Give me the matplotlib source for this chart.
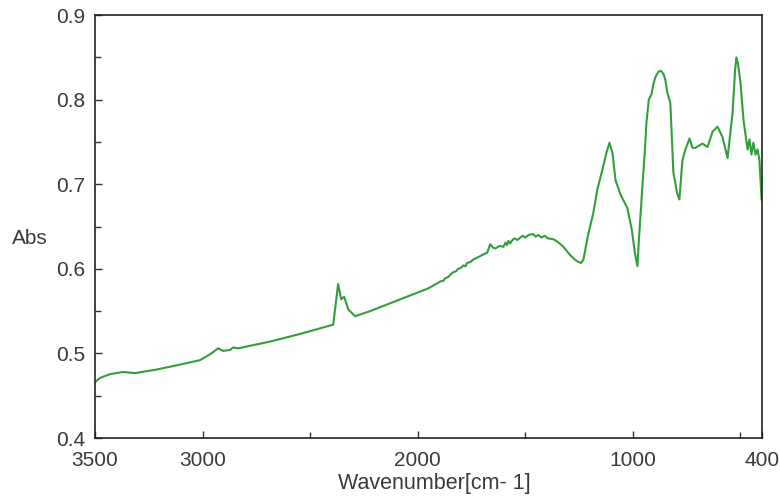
import matplotlib
matplotlib.use("Agg")
import matplotlib.pyplot as plt

plt.rcParams['font.family'] = ['Liberation Sans', 'DejaVu Sans']

wavenumber = [3500, 3477, 3430, 3370, 3314, 3212, 3119, 3012, 2965, 2928, 2905, 2872, 2858, 2835,
              2686, 2547, 2407, 2393, 2370, 2356, 2342, 2323, 2291, 2221, 2081, 1950, 1895, 1880,
              1872, 1860, 1848, 1835, 1822, 1812, 1800, 1788, 1778, 1770, 1755, 1742, 1725, 1710,
              1695, 1677, 1663, 1650, 1640, 1620, 1602, 1592, 1585, 1578, 1570, 1560, 1550, 1537,
              1523, 1512, 1500, 1485, 1463, 1452, 1440, 1425, 1410, 1395, 1370, 1350, 1323, 1291,
              1270, 1253, 1240, 1230, 1210, 1184, 1165, 1142, 1123, 1109, 1095, 1081, 1058, 1026,
              1005, 991, 979, 972, 956, 944, 937, 926, 914, 905, 895, 881, 870, 863, 856, 849,
              840, 826, 812, 795, 784, 770, 756, 737, 723, 709, 677, 653, 630, 607, 584, 560,
              537, 525, 519, 512, 500, 486, 467, 458, 449, 440, 430, 421, 412, 402]
absorbance = [0.466, 0.471, 0.4755, 0.478, 0.4767, 0.481, 0.486, 0.492, 0.499, 0.506, 0.503, 0.504,
              0.507, 0.506, 0.514, 0.523, 0.533, 0.534, 0.582, 0.564, 0.567, 0.552, 0.544, 0.550,
              0.564, 0.577, 0.585, 0.586, 0.589, 0.590, 0.593, 0.596, 0.597, 0.600, 0.601, 0.604,
              0.603, 0.607, 0.608, 0.611, 0.613, 0.615, 0.617, 0.619, 0.629, 0.625, 0.624, 0.627,
              0.626, 0.631, 0.628, 0.633, 0.630, 0.634, 0.636, 0.634, 0.637, 0.639, 0.637, 0.640,
              0.641, 0.638, 0.640, 0.637, 0.639, 0.636, 0.635, 0.632, 0.626, 0.616, 0.611, 0.608,
              0.607, 0.611, 0.638, 0.666, 0.694, 0.717, 0.737, 0.749, 0.737, 0.705, 0.688, 0.672,
              0.646, 0.619, 0.603, 0.635, 0.697, 0.741, 0.773, 0.800, 0.806, 0.818, 0.827, 0.833,
              0.834, 0.832, 0.829, 0.823, 0.808, 0.796, 0.714, 0.690, 0.682, 0.728, 0.741, 0.754,
              0.743, 0.743, 0.748, 0.744, 0.762, 0.768, 0.756, 0.731, 0.784, 0.835, 0.850, 0.843,
              0.820, 0.776, 0.741, 0.753, 0.735, 0.749, 0.735, 0.741, 0.729, 0.682]

y_ticks = [0.4, 0.5, 0.6, 0.7, 0.8, 0.9]
x_ticks = [3500, 3000, 2000, 1000, 400]
x_minor = [2500, 1500, 500]
y_minor = [0.45, 0.55, 0.65, 0.75, 0.85]

fig = plt.figure(figsize=(7.8, 4.97), dpi=100)
ax = fig.add_axes([95/780, (497-438)/497, (762-95)/780, (438-15)/497])
ax.plot(wavenumber, absorbance, color='#339e3c', lw=1.5, solid_joinstyle='round')
ax.set_xlim(3500, 400)
ax.set_ylim(0.4, 0.9)
ax.set_xticks(x_ticks)
ax.set_xticklabels([str(v) for v in x_ticks])
ax.set_xticks(x_minor, minor=True)
ax.set_yticks(y_ticks)
ax.set_yticklabels([f"{v:.1f}" for v in y_ticks])
ax.set_yticks(y_minor, minor=True)
ax.tick_params(axis='both', which='both', direction='in', labelsize=15, colors='#333333', labelcolor='#3a3a3a')
ax.tick_params(axis='both', which='major', length=5, width=1)
ax.tick_params(axis='both', which='minor', length=4, width=1)
ax.tick_params(axis='x', pad=9)
ax.tick_params(axis='y', pad=7)
for s in ax.spines.values():
    s.set_color('#222222')
    s.set_linewidth(1.2)

fig.text(30/780, 1-238/497, 'Abs', ha='center', va='center', fontsize=15, color='#3a3a3a')
fig.text(434/780, 1-483/497, 'Wavenumber[cm- 1]', ha='center', va='center', fontsize=15.5, color='#3a3a3a')

fig.savefig('out.png', dpi=100)
